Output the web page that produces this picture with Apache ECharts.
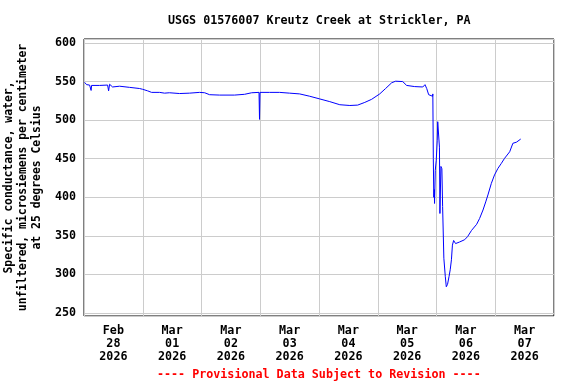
<!DOCTYPE html>
<html>
<head>
<meta charset="utf-8">
<script src="https://cdn.jsdelivr.net/npm/echarts@6/dist/echarts.min.js"></script>
<style>html,body{margin:0;padding:0;background:#fff;}#c{width:576px;height:384px;}</style>
</head>
<body>
<div id="c"></div>
<script>
// Hours since 2026-02-28 00:00
var hours = [0.25,1.06,2.29,2.9,3.1,6.37,9.64,10.05,10.46,11.68,14.54,18.63,22.71,23.94,25.98,27.6,30.9,32.9,34.9,39.05,43.1,47.2,49.3,51.3,55.4,61.5,65.6,68.5,71.5,71.7,71.9,75.8,79.9,84.0,88.1,92.2,96.3,100.4,104.5,108.6,111.8,114.7,117.5,120.8,123.2,125.7,127.3,130.2,131.8,135.1,138.4,139.3,140.0,140.8,141.6,142.4,142.5,142.7,142.9,143.1,143.2,143.5,143.9,144.3,144.5,144.9,145.2,145.4,145.8,146.2,146.5,147.0,147.6,148.0,148.5,149.1,149.6,150.1,150.5,151.0,151.8,153.4,155.5,156.7,158.3,160.4,161.6,163.0,164.1,165.0,166.4,167.7,169.1,170.5,171.8,173.9,175.2,175.9,176.7,178.4];
var conductance = [549,546,545.5,538.5,545,545,545.5,538,546.5,543,544,542.5,541,540,538,536,536,535,535.5,534.5,535,536,535.5,533,532.5,532.5,533.5,535.5,536,501,536,536,536,535,534,531,527.5,524,520,519,519.5,523,527,534,541,548.5,550.5,550,545,543.5,543,546,541,533,534,531,534,450,400,410,392,435,448,474,498,498,465,379,440,437,388,321,297,284,287,297,306,319,338,344,340,342,345,349,357,365,372.5,383.5,394,403,418,429,437.5,444,450.5,459,470,472,471.5,475.5];
var dayLabels = ['Feb\n28\n2026','Mar\n01\n2026','Mar\n02\n2026','Mar\n03\n2026','Mar\n04\n2026','Mar\n05\n2026','Mar\n06\n2026','Mar\n07\n2026'];
var yTicks = [250,300,350,400,450,500,550,600];

var FONT = 'DejaVu Sans Mono';
var FS = 11.7;
var data = hours.map(function(h,i){return [h, conductance[i]];});
var chart = echarts.init(document.getElementById('c'), null, {renderer:'canvas'});
chart.setOption({
  animation:false,
  backgroundColor:'#fff',
  title:[
    {text:'USGS 01576007 Kreutz Creek at Strickler, PA', left:163, top:10,
     textStyle:{fontFamily:FONT,fontSize:FS,fontWeight:'bold',color:'#000'}},
    {text:'---- Provisional Data Subject to Revision ----', left:152, top:364,
     textStyle:{fontFamily:FONT,fontSize:FS,fontWeight:'bold',color:'#ff0000'}}
  ],
  grid:{left:84,right:22,top:39,bottom:68,show:true,borderColor:'#000',borderWidth:1,backgroundColor:'transparent',outerBoundsMode:'none',containLabel:false},
  xAxis:[
    {type:'value',min:0,max:192,interval:24,
     axisLine:{show:false},axisTick:{show:false},axisLabel:{show:false},
     splitLine:{show:true,lineStyle:{color:'#cccccc',width:1}}},
    {type:'category',data:dayLabels,position:'bottom',boundaryGap:true,
     axisLine:{show:false},axisTick:{show:false},splitLine:{show:false},
     axisLabel:{fontFamily:FONT,fontSize:FS,fontWeight:'bold',color:'#000',lineHeight:13,margin:8,interval:0}}
  ],
  yAxis:{type:'value',min:246.1,max:605.2,splitNumber:7,
    name:'Specific conductance, water,\nunfiltered, microsiemens per centimeter\nat 25 degrees Celsius',
    nameLocation:'middle',nameRotate:90,nameGap:33,
    nameTextStyle:{fontFamily:FONT,fontSize:11.4,fontWeight:'bold',color:'#000',lineHeight:14},
    axisLine:{show:false},axisTick:{show:false},
    axisLabel:{fontFamily:FONT,fontSize:FS,fontWeight:'bold',color:'#000',margin:8,
      formatter:function(v){return yTicks.indexOf(Math.round(v*10)/10)>=0?String(v):'';}},
    splitLine:{show:true,lineStyle:{color:'#cccccc',width:1}}},
  series:[{type:'line',xAxisIndex:0,data:data,showSymbol:false,symbol:'none',
    lineStyle:{color:'#0000ff',width:1},itemStyle:{color:'#0000ff'}}]
});
</script>
</body>
</html>
